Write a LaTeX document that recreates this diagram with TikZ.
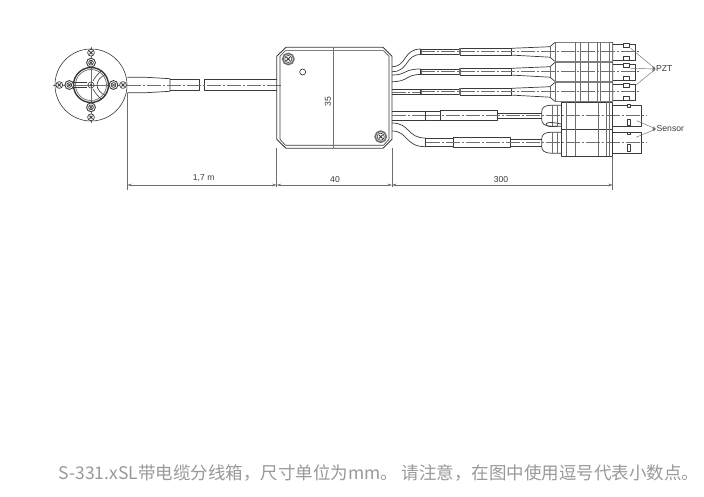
\documentclass[tikz,border=0pt]{standalone}
\usepackage{fontspec}
\setmainfont{Liberation Sans}
\newfontfamily\captionFont{Noto Sans CJK SC}
\usetikzlibrary{arrows.meta}

\definecolor{inkDark}{HTML}{3A3A3A}
\definecolor{inkDim}{HTML}{6E6E6E}
\definecolor{inkCaption}{HTML}{999999}

\def \screwBig {4.4}
\def \screwSmall {3.4}

\tikzset{
  part/.style={draw=inkDark,line width=0.7pt,line join=round},
  rib/.style={draw=inkDim,line width=0.7pt},
  axis/.style={draw=inkDim,line width=0.45pt,dash pattern=on 14pt off 2pt on 2pt off 2pt},
  dimline/.style={draw=inkDim,line width=0.45pt},
  dimarrow/.style={dimline,{Stealth[length=4.5pt,width=2.6pt]}-{Stealth[length=4.5pt,width=2.6pt]}},
  leader/.style={draw=inkDim,line width=0.45pt,-{Stealth[length=3.5pt,width=2.4pt]}},
  dimtext/.style={text=inkDark,font=\fontsize{8.6}{10}\selectfont,inner sep=0pt},
}

\begin{document}
\begin{tikzpicture}[x=1pt,y=-1pt]
  \useasboundingbox[fill=white] (0,0) rectangle (704,497);

  % flange
  \draw[dimline] (53,85) -- (128,85);
  \draw[dimline] (91,47) -- (91,123);
  \draw[part,line width=0.6pt] (91,85) circle (36);
  \draw[part,line width=1.4pt] (91,85) circle (17.5);
  \draw[rib] (91,85) circle (15.5);
  \draw[part,line width=0.6pt] (87,82.7) -- (73,82.7) (87,87.3) -- (73,87.3);
  \draw[part,line width=0.6pt] (93,81) .. controls (95,77) and (98,74) .. (101,71);
  \draw[part,line width=0.6pt] (93,89) .. controls (95,93) and (98,96) .. (101,99);
  \draw[part,line width=0.6pt] (97,85) .. controls (97,81) and (101,76) .. (105,75);
  \draw[part,line width=0.6pt] (97,85) .. controls (97,89) and (101,94) .. (105,95);
  \draw[part,line width=0.6pt] (91,85) circle (3);
  \filldraw[fill=inkDim,draw=inkDark,line width=0.4pt] (91,85) circle (1.2);
  \foreach \sx/\sy in {69.3/85,113.5/85,91/62.7,91/107.3} {
    \filldraw[part,fill=white,line width=0.9pt] (\sx,\sy) circle (\screwBig);
    \draw[part,line width=0.7pt] (\sx,\sy) circle (2.4);
    \draw[part,line width=0.7pt] (\sx-1.5,\sy-1.5) -- (\sx+1.5,\sy+1.5) (\sx-1.5,\sy+1.5) -- (\sx+1.5,\sy-1.5);
  }
  \foreach \sx/\sy in {59.3/85,123/85,91/52.7,91/117.3} {
    \filldraw[part,fill=white,line width=0.7pt] (\sx,\sy) circle (\screwSmall);
    \draw[part,line width=0.9pt] (\sx-1.6,\sy-1.6) -- (\sx+1.6,\sy+1.6) (\sx-1.6,\sy+1.6) -- (\sx+1.6,\sy-1.6);
  }

  % main cable
  \draw[part] (127.3,77.3) -- (146,77.3) -- (170,78.7) -- (170,91.3) -- (146,92.7) -- (127.3,92.7);
  \draw[part] (170,79.3) -- (199.5,79.3) -- (199.5,90.7) -- (170,90.7);
  \draw[part] (277,79.3) -- (204.7,79.3) -- (204.7,90.7) -- (277,90.7);
  \draw[axis] (127,85) -- (283,85);

  % box
  \draw[part,line width=0.9pt] (286,47.3) -- (383,47.3) -- (392,56.3) -- (392,139.3) -- (383,148.3)
    -- (286,148.3) -- (276.7,139.3) -- (276.7,56.3) -- cycle;
  \draw[part,line width=0.6pt] (285.5,50.7) -- (383.5,50.7) -- (389,56.3) -- (389,139.3) -- (383.5,145.3)
    -- (285.5,145.3) -- (280,139.3) -- (280,56.3) -- cycle;
  \draw[dimline] (333.3,47.3) -- (333.3,148.3);
  \node[dimtext,rotate=90] (boxHeight) at (328,101.7) {35};
  \draw[part,line width=0.7pt] (302.7,72) circle (3);
  \foreach \sx/\sy in {288.3/59,380.7/136.7} {
    \draw[draw=inkDim,line width=1.6pt] (\sx,\sy) circle (5.6);
    \draw[part,line width=0.6pt] (\sx,\sy) circle (3.6);
    \draw[part,line width=0.9pt] (\sx-1.8,\sy-1.8) -- (\sx+1.8,\sy+1.8) (\sx-1.8,\sy+1.8) -- (\sx+1.8,\sy-1.8);
  }

  % PZT cables
  \draw[part] (392,66.7) .. controls (407,66.7) and (403,49) .. (420.7,49);
  \draw[part] (392,71.7) .. controls (409,71.7) and (405,54.5) .. (420.7,54.5);
  \draw[part] (392,75) .. controls (407,75) and (403,69) .. (420.7,69);
  \draw[part] (392,81.7) .. controls (409,81.7) and (405,74.5) .. (420.7,74.5);
  \draw[part] (392,89.3) -- (420.7,89.3) (392,94.7) -- (420.7,94.7);
  \draw[axis] (392,92) -- (420.7,92);

  % PZT connectors
  \foreach \cy in {51.7,71.7,91.7} {
    \draw[rib,line width=1.6pt] (420.7,\cy-2.8) -- (420.7,\cy+2.8);
    \draw[part] (420.7,\cy-2.8) rectangle (460,\cy+2.8);
    \draw[part] (460,\cy-3.4) -- (511.7,\cy-3.4) (460,\cy+3.4) -- (511.7,\cy+3.4);
    \draw[rib,line width=1.2pt] (460,\cy-3.4) -- (460,\cy+3.4);
    \draw[part,line width=1pt] (511.7,\cy-3.4) -- (511.7,\cy+3.4);
    \draw[part] (511.7,\cy-3.4) -- (550,\cy-5) -- (555,\cy-9.3) -- (612.7,\cy-9.3) -- (612.7,\cy+9.7)
      -- (555,\cy+9.7) -- (550,\cy+5.5) -- (511.7,\cy+3.4);
    \draw[rib,line width=0.5pt] (550,\cy-5) -- (550,\cy+5.5);
    \draw[rib] (555,\cy-9.3) -- (555,\cy+9.7);
    \foreach \rx in {575,580.7,588.3,597.3,600.7,609.3} {
      \draw[rib] (\rx,\cy-9.3) -- (\rx,\cy+9.7);
    }
    \draw[part,line width=0.6pt] (612.7,\cy-7.8) -- (635,\cy-7.8) -- (635,\cy+9) -- (612.7,\cy+9);
    \filldraw[part,fill=white,line width=0.7pt] (623.5,\cy-8.3) rectangle (629.5,\cy-4.8);
    \filldraw[part,fill=white,line width=0.9pt] (623.5,\cy+4.5) rectangle (629.5,\cy+8.5);
    \draw[axis] (421,\cy) -- (640,\cy);
  }

  % sensor cables
  \draw[part] (392,111) -- (425.3,111) (392,120) -- (425.3,120);
  \draw[part] (392,123) .. controls (410,123) and (407,138) .. (425.3,138);
  \draw[part] (392,131) .. controls (408,131) and (405,146.7) .. (425.3,146.7);
  \draw[rib,line width=1.4pt] (425.3,111) -- (425.3,120) (425.3,138) -- (425.3,146.7);
  \draw[part] (425.3,111) rectangle (440,120);
  \draw[part,line width=0.9pt] (440,110) rectangle (497.3,120.7);
  \draw[part] (497.3,113) -- (541.7,113) (497.3,118) -- (541.7,118);
  \draw[part] (425.3,138.3) rectangle (453.3,146.7);
  \draw[part,line width=0.9pt] (453.3,137.3) rectangle (510.7,147.3);
  \draw[part] (510.7,139) -- (541.7,139) (510.7,146) -- (541.7,146);
  \draw[axis] (392,115.7) -- (425.3,115.7);

  % sensor connectors
  \foreach \cy in {115.7,142.7} {
    \draw[part] (561,\cy-10.5) -- (551,\cy-10.5) .. controls (545,\cy-10.5) and (541.7,\cy-8) .. (541.7,\cy-4)
      -- (541.7,\cy+4) .. controls (541.7,\cy+8) and (545,\cy+10.5) .. (551,\cy+10.5) -- (561,\cy+10.5);
    \draw[rib] (552,\cy-10.5) -- (552,\cy+10.5);
    \draw[rib] (557,\cy-10.5) -- (557,\cy+10.5);
    \draw[part,line width=0.7pt] (612.7,\cy-10.7) -- (641.7,\cy-10.7) -- (641.7,\cy+10.3) -- (612.7,\cy+10.3);
    \draw[axis] (426,\cy) -- (647,\cy);
  }
  \draw[part,line width=0.7pt] (561,124) .. controls (552,122) and (547,122) .. (546,124) .. controls (546,127) and (552,127) .. (558,126);
  \draw[part,line width=0.9pt] (561,102.3) rectangle (612.7,156);
  \draw[part] (561,129) -- (612.7,129);
  \foreach \rx in {566,575,598.3,606.7,609.3} {
    \draw[rib] (\rx,102.3) -- (\rx,156);
  }
  \foreach \py/\ph in {104/3.5,119.5/6,132/2,144/7} {
    \filldraw[part,fill=white,line width=0.7pt] (627,\py) rectangle (630,\py+\ph);
  }

  % callouts
  \node[dimtext,anchor=west] (pztLabel) at (656,69) {PZT};
  \node[dimtext,anchor=west] (sensorLabel) at (656.5,129) {Sensor};
  \coordinate (pztA) at (655.5,69);
  \coordinate (pztTop) at (630.7,48.3);
  \coordinate (pztMid) at (630.7,68.3);
  \coordinate (pztLow) at (636,85);
  \coordinate (sensorA) at (656,129);
  \coordinate (sensorTop) at (636.7,120.7);
  \coordinate (sensorLow) at (636,137.3);
  \draw[leader] (pztTop) -- (pztA);
  \draw[leader] (pztMid) -- (pztA);
  \draw[leader] (pztLow) -- (pztA);
  \draw[leader] (sensorTop) -- (sensorA);
  \draw[leader] (sensorLow) -- (sensorA);

  % dimensions
  \coordinate (dimA) at (127.3,185);
  \coordinate (dimB) at (276.7,185);
  \coordinate (dimC) at (392,185);
  \coordinate (dimD) at (612.7,185);
  \draw[dimline] (127.3,93) -- (127.3,190);
  \draw[dimline] (276.7,148) -- (276.7,187);
  \draw[dimline] (392,148) -- (392,187);
  \draw[dimline] (612.7,156) -- (612.7,190);
  \draw[dimarrow] (dimA) -- (dimB);
  \draw[dimarrow] (dimB) -- (dimC);
  \draw[dimarrow] (dimC) -- (dimD);
  \node[dimtext] (lenCable) at (203.7,178.5) {1,7 m};
  \node[dimtext] (lenBox) at (335,179.5) {40};
  \node[dimtext] (lenLeads) at (501,179.5) {300};

  % caption
  \node[text=inkCaption,inner sep=0pt,font=\captionFont\fontsize{17.5}{20}\selectfont] (caption) at (379,473)
    {S-331.xSL带电缆分线箱，尺寸单位为mm。 请注意，在图中使用逗号代表小数点。};
\end{tikzpicture}
\end{document}
